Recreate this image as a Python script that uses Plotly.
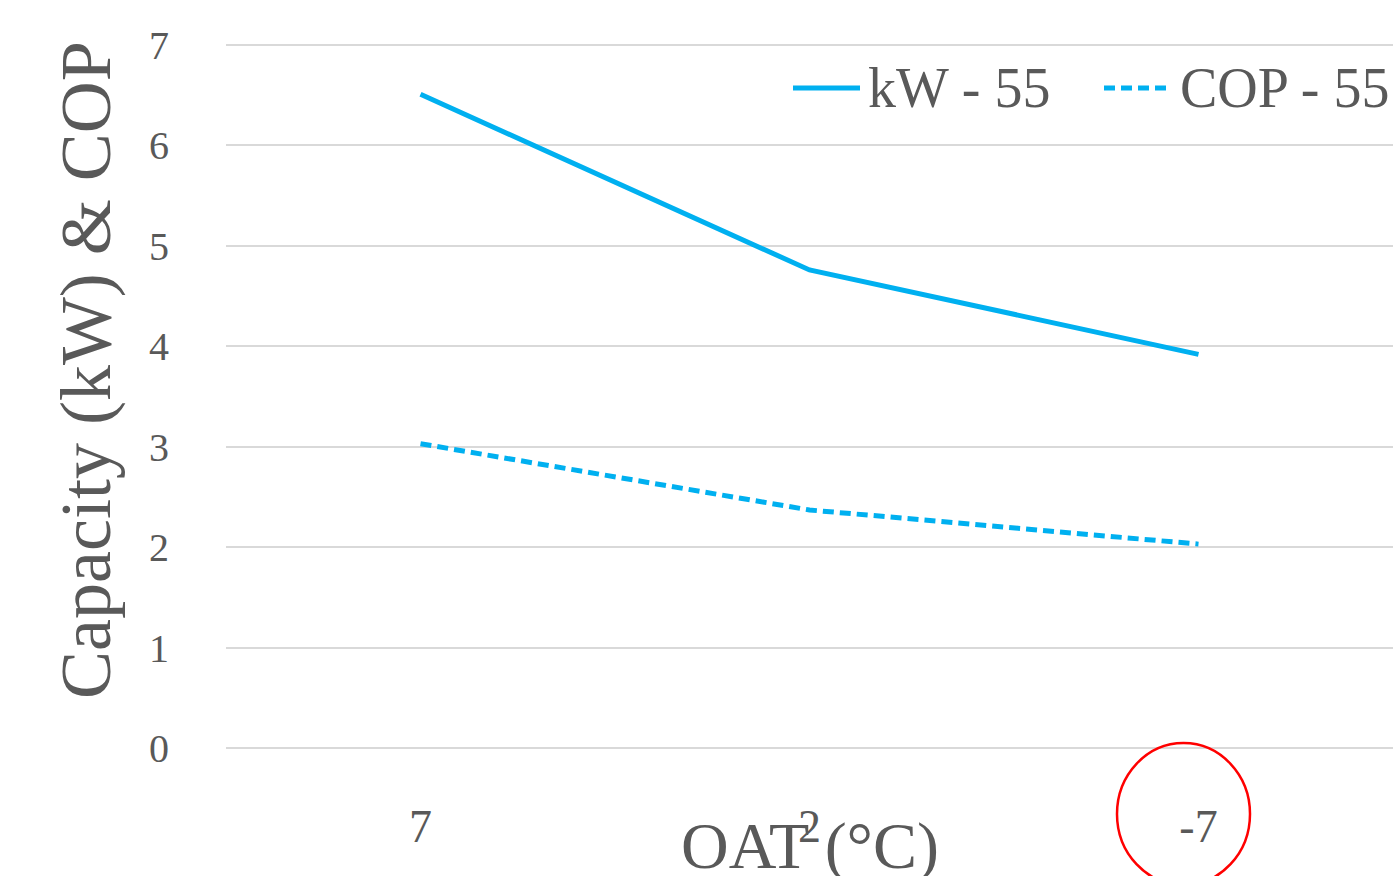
import plotly.graph_objects as go

oat = ["7", "2", "-7"]
kw_55 = [6.51, 4.76, 3.92]
cop_55 = [3.03, 2.37, 2.03]

SERIF = "Palatino Linotype, Book Antiqua, Palatino, Liberation Serif, serif"
GREY = "#595959"
BLUE = "#00B0F0"

fig = go.Figure()
fig.add_trace(go.Scatter(x=oat, y=kw_55, mode="lines", name="kW - 55",
                         line=dict(color=BLUE, width=5)))
fig.add_trace(go.Scatter(x=oat, y=cop_55, mode="lines", name="COP - 55",
                         line=dict(color=BLUE, width=5, dash="11px,6px")))

# plot area: x 226..1393, y 42..751 (value 0 at 748, 7 at 45)
W, H = 1393, 876
L, R, T, B = 226, 0, 42, 125
ph = H - T - B
pw = W - L - R

def px(x):
    return (x - L) / pw

def py(y):
    return (H - B - y) / ph

# hand-drawn legend (longer sample lines than plotly's legend gives)
legend_items = [
    dict(name="kW - 55", x0=793, x1=860, tx=866, dash="solid"),
    dict(name="COP - 55", x0=1104, x1=1167, tx=1178, dash="11px,6px"),
]
shapes = []
annotations = []
for it in legend_items:
    shapes.append(dict(type="line", xref="paper", yref="paper",
                       x0=px(it["x0"]), x1=px(it["x1"]), y0=py(88), y1=py(88),
                       line=dict(color=BLUE, width=5, dash=it["dash"])))
    annotations.append(dict(text=it["name"], xref="paper", yref="paper",
                            x=px(it["tx"]), y=py(88), xanchor="left", yanchor="middle",
                            showarrow=False, font=dict(size=56, color=GREY, family=SERIF)))

annotations.append(dict(text="OAT (°C)", xref="paper", yref="paper", x=px(810), y=py(846),
                        xanchor="center", yanchor="middle", showarrow=False,
                        font=dict(size=66, color=GREY, family=SERIF)))
annotations.append(dict(text="Capacity (kW) & COP", xref="paper", yref="paper",
                        x=px(86), y=py(370), xanchor="center", yanchor="middle",
                        textangle=-90, showarrow=False,
                        font=dict(size=72, color=GREY, family=SERIF)))

shapes.append(dict(type="circle", xref="paper", yref="paper",
                   x0=px(1117), x1=px(1250), y0=py(743), y1=py(885),
                   line=dict(color="#FF0000", width=2.5)))

fig.update_layout(
    width=W, height=H,
    margin=dict(l=L, r=R, t=T, b=B, autoexpand=False),
    paper_bgcolor="white", plot_bgcolor="white",
    font=dict(family=SERIF, color=GREY),
    showlegend=False,
    xaxis=dict(type="category", range=[-0.5, 2.5], showgrid=False, showline=False,
               zeroline=False, ticks="", tickfont=dict(size=46, color=GREY),
               ticklabelstandoff=44, automargin=False),
    yaxis=dict(range=[-0.03, 7.03], dtick=1, tick0=0, showgrid=True, gridcolor="#D9D9D9",
               gridwidth=1.5, zeroline=False, showline=False, ticks="",
               tickfont=dict(size=40, color=GREY), ticklabelstandoff=56, automargin=False),
    annotations=annotations,
    shapes=shapes,
)

fig.write_html("out.html", config={"displayModeBar": False},
               post_script="document.body.style.margin='0';")
